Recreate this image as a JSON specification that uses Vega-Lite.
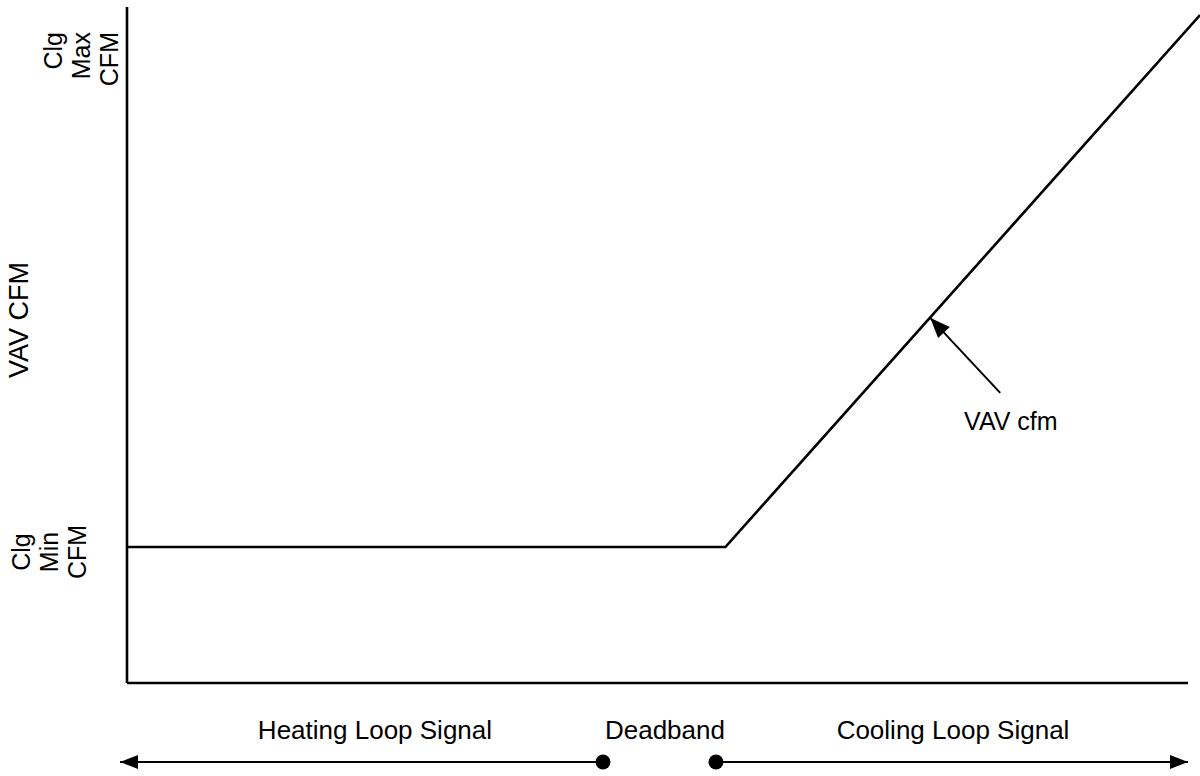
{
  "$schema": "https://vega.github.io/schema/vega-lite/v6.json",
  "width": 1200,
  "height": 776,
  "padding": 0,
  "autosize": {"type": "fit", "contains": "padding"},
  "config": {"view": {"stroke": null}, "font": "Liberation Sans"},
  "datasets": {
    "curve": [
      {"signal": 0, "cfm": 20.3},
      {"signal": 56.4, "cfm": 20.3},
      {"signal": 101.13, "cfm": 99.7}
    ],
    "axes": [
      {"name": "yaxis", "x": 0, "y": 0, "x2": 0, "y2": 100.9},
      {"name": "xaxis", "x": 0, "y": 0, "x2": 100, "y2": 0}
    ],
    "arrows": [
      {"name": "heating", "x": 44.86, "y": -11.79, "x2": -0.66, "y2": -11.79},
      {"name": "cooling", "x": 55.51, "y": -11.79, "x2": 100, "y2": -11.79},
      {"name": "callout", "x": 82.3, "y": 43.3, "x2": 75.7, "y2": 54.5}
    ],
    "dots": [
      {"x": 44.86, "y": -11.79},
      {"x": 55.51, "y": -11.79}
    ],
    "labels": [
      {"text": "Heating Loop Signal", "x": 23.37, "y": -7.16},
      {"text": "Deadband", "x": 50.7, "y": -7.16},
      {"text": "Cooling Loop Signal", "x": 77.85, "y": -7.16}
    ],
    "callout": [
      {"text": "VAV cfm", "x": 83.3, "y": 39.03}
    ],
    "ytitle": [
      {"text": "VAV CFM", "x": -10.08, "y": 54.18}
    ],
    "minlabel": [
      {"text": "Clg\nMin\nCFM", "x": -9.9, "y": 19.55}
    ],
    "maxlabel": [
      {"text": "Clg\nMax\nCFM", "x": -6.88, "y": 97.16}
    ]
  },
  "layer": [
    {
      "data": {"name": "axes"},
      "mark": {"type": "rule", "color": "black", "strokeWidth": 2.6},
      "encoding": {
        "x": {"field": "x", "type": "quantitative", "scale": {"domain": [-11.97, 101.13], "nice": false, "zero": false}, "axis": null},
        "y": {"field": "y", "type": "quantitative", "scale": {"domain": [-13.88, 101.94], "nice": false, "zero": false}, "axis": null},
        "x2": {"field": "x2"},
        "y2": {"field": "y2"}
      }
    },
    {
      "data": {"name": "curve"},
      "mark": {"type": "line", "color": "black", "strokeWidth": 2.6, "clip": true},
      "encoding": {
        "x": {"field": "signal", "type": "quantitative", "scale": {"domain": [-11.97, 101.13], "nice": false, "zero": false}, "axis": null},
        "y": {"field": "cfm", "type": "quantitative", "scale": {"domain": [-13.88, 101.94], "nice": false, "zero": false}, "axis": null}
      }
    },
    {
      "data": {"name": "arrows"},
      "mark": {"type": "rule", "color": "black", "strokeWidth": 2},
      "encoding": {
        "x": {"field": "x", "type": "quantitative", "scale": {"domain": [-11.97, 101.13], "nice": false, "zero": false}, "axis": null},
        "y": {"field": "y", "type": "quantitative", "scale": {"domain": [-13.88, 101.94], "nice": false, "zero": false}, "axis": null},
        "x2": {"field": "x2"},
        "y2": {"field": "y2"}
      }
    },
    {
      "data": {"name": "arrows"},
      "transform": [{"filter": "datum.name === 'callout'"}],
      "mark": {"type": "point", "shape": "M0,0L-0.8,2L0.8,2Z", "filled": true, "color": "black", "opacity": 1, "size": 400, "angle": 316.6},
      "encoding": {
        "x": {"field": "x2", "type": "quantitative", "scale": {"domain": [-11.97, 101.13], "nice": false, "zero": false}, "axis": null},
        "y": {"field": "y2", "type": "quantitative", "scale": {"domain": [-13.88, 101.94], "nice": false, "zero": false}, "axis": null}
      }
    },
    {
      "data": {"name": "arrows"},
      "transform": [{"filter": "datum.name === 'heating'"}],
      "mark": {"type": "point", "shape": "M0,0L-0.7,1.8L0.7,1.8Z", "filled": true, "color": "black", "opacity": 1, "size": 400, "angle": 270},
      "encoding": {
        "x": {"field": "x2", "type": "quantitative", "scale": {"domain": [-11.97, 101.13], "nice": false, "zero": false}, "axis": null},
        "y": {"field": "y2", "type": "quantitative", "scale": {"domain": [-13.88, 101.94], "nice": false, "zero": false}, "axis": null}
      }
    },
    {
      "data": {"name": "arrows"},
      "transform": [{"filter": "datum.name === 'cooling'"}],
      "mark": {"type": "point", "shape": "M0,0L-0.7,1.8L0.7,1.8Z", "filled": true, "color": "black", "opacity": 1, "size": 400, "angle": 90},
      "encoding": {
        "x": {"field": "x2", "type": "quantitative", "scale": {"domain": [-11.97, 101.13], "nice": false, "zero": false}, "axis": null},
        "y": {"field": "y2", "type": "quantitative", "scale": {"domain": [-13.88, 101.94], "nice": false, "zero": false}, "axis": null}
      }
    },
    {
      "data": {"name": "dots"},
      "mark": {"type": "point", "shape": "circle", "filled": true, "color": "black", "opacity": 1, "size": 225},
      "encoding": {
        "x": {"field": "x", "type": "quantitative", "scale": {"domain": [-11.97, 101.13], "nice": false, "zero": false}, "axis": null},
        "y": {"field": "y", "type": "quantitative", "scale": {"domain": [-13.88, 101.94], "nice": false, "zero": false}, "axis": null}
      }
    },
    {
      "data": {"name": "labels"},
      "mark": {"type": "text", "fontSize": 26, "color": "black", "align": "center", "baseline": "middle"},
      "encoding": {
        "x": {"field": "x", "type": "quantitative", "scale": {"domain": [-11.97, 101.13], "nice": false, "zero": false}, "axis": null},
        "y": {"field": "y", "type": "quantitative", "scale": {"domain": [-13.88, 101.94], "nice": false, "zero": false}, "axis": null},
        "text": {"field": "text"}
      }
    },
    {
      "data": {"name": "callout"},
      "mark": {"type": "text", "fontSize": 25, "color": "black", "align": "center", "baseline": "middle"},
      "encoding": {
        "x": {"field": "x", "type": "quantitative", "scale": {"domain": [-11.97, 101.13], "nice": false, "zero": false}, "axis": null},
        "y": {"field": "y", "type": "quantitative", "scale": {"domain": [-13.88, 101.94], "nice": false, "zero": false}, "axis": null},
        "text": {"field": "text"}
      }
    },
    {
      "data": {"name": "ytitle"},
      "mark": {"type": "text", "fontSize": 27, "color": "black", "align": "center", "baseline": "middle", "angle": 270},
      "encoding": {
        "x": {"field": "x", "type": "quantitative", "scale": {"domain": [-11.97, 101.13], "nice": false, "zero": false}, "axis": null},
        "y": {"field": "y", "type": "quantitative", "scale": {"domain": [-13.88, 101.94], "nice": false, "zero": false}, "axis": null},
        "text": {"field": "text"}
      }
    },
    {
      "data": {"name": "minlabel"},
      "mark": {"type": "text", "fontSize": 25, "color": "black", "align": "center", "baseline": "middle", "angle": 270, "lineBreak": "\n", "lineHeight": 28},
      "encoding": {
        "x": {"field": "x", "type": "quantitative", "scale": {"domain": [-11.97, 101.13], "nice": false, "zero": false}, "axis": null},
        "y": {"field": "y", "type": "quantitative", "scale": {"domain": [-13.88, 101.94], "nice": false, "zero": false}, "axis": null},
        "text": {"field": "text"}
      }
    },
    {
      "data": {"name": "maxlabel"},
      "mark": {"type": "text", "fontSize": 25, "color": "black", "align": "right", "baseline": "middle", "angle": 270, "lineBreak": "\n", "lineHeight": 28},
      "encoding": {
        "x": {"field": "x", "type": "quantitative", "scale": {"domain": [-11.97, 101.13], "nice": false, "zero": false}, "axis": null},
        "y": {"field": "y", "type": "quantitative", "scale": {"domain": [-13.88, 101.94], "nice": false, "zero": false}, "axis": null},
        "text": {"field": "text"}
      }
    }
  ]
}
